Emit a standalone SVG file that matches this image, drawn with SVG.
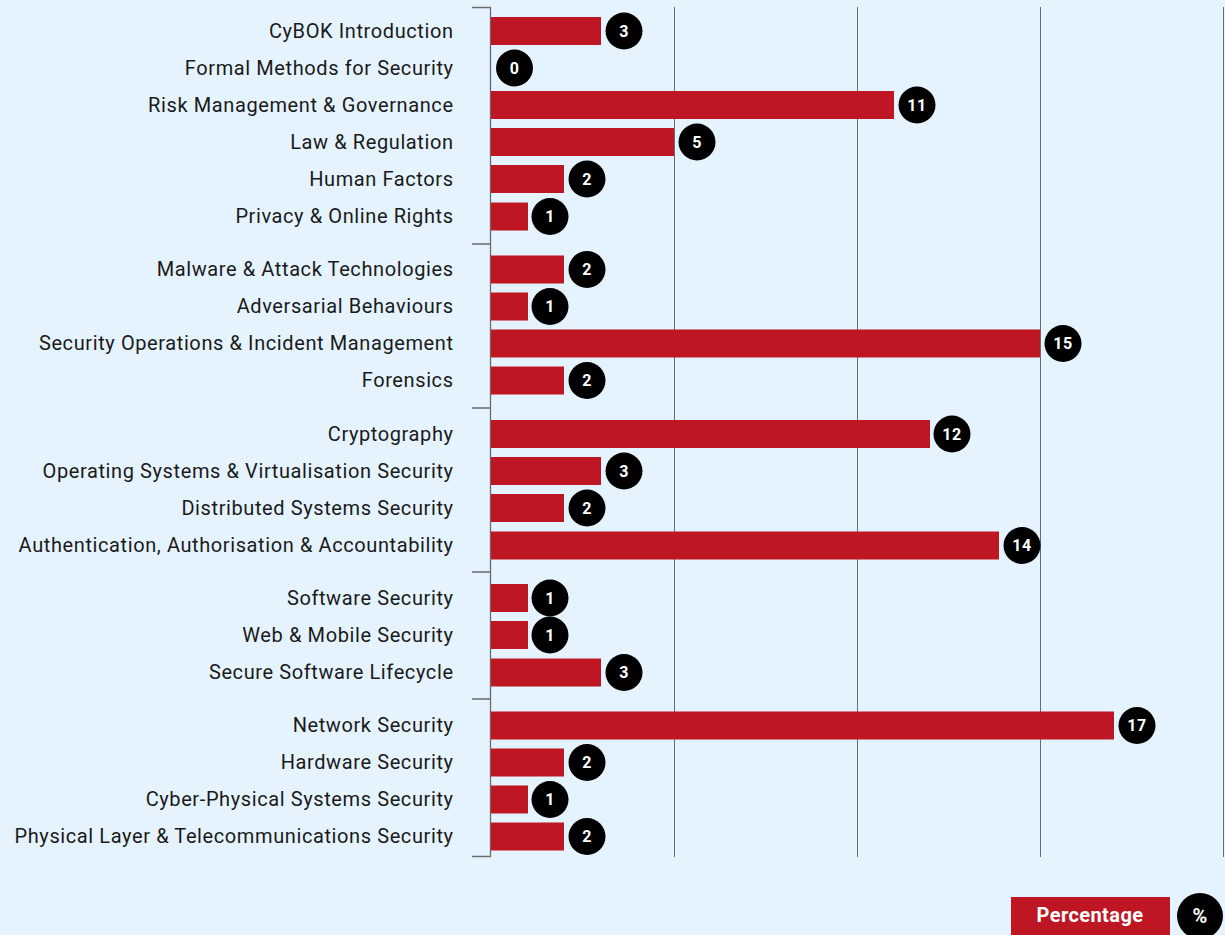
<svg xmlns="http://www.w3.org/2000/svg" width="1225" height="935" viewBox="0 0 1225 935">
<style>
.lbl{font-family:Roboto,"Liberation Sans",sans-serif;font-size:20px;letter-spacing:0.6px;fill:#1a1a1a;text-anchor:end;dominant-baseline:central}
.bar{fill:#be1723}
.dot{fill:#000}
.num{font-family:Roboto,"Liberation Sans",sans-serif;font-size:16px;font-weight:bold;letter-spacing:0.5px;fill:#fff;text-anchor:middle;dominant-baseline:central}
.grid{stroke:#6b6b6b;stroke-width:1;fill:none}
.axis{stroke:#6b6b6b;stroke-width:1.3;fill:none}
.leg{font-family:Roboto,"Liberation Sans",sans-serif;font-size:20px;font-weight:bold;letter-spacing:0.4px;fill:#fff;text-anchor:middle;dominant-baseline:central}
</style>
<rect width="1225" height="935" fill="#e5f3fe"/>
<g id="grid">
<line class="grid" x1="674.5" y1="7" x2="674.5" y2="857"/>
<line class="grid" x1="857.5" y1="7" x2="857.5" y2="857"/>
<line class="grid" x1="1040.5" y1="7" x2="1040.5" y2="857"/>
<line class="grid" x1="1223.5" y1="7" x2="1223.5" y2="857"/>
</g>
<g id="axis">
<path class="axis" d="M472 7.5H490.5V856.5H472"/>
<path class="axis" d="M472 244H490.5M472 408H490.5M472 572H490.5M472 699H490.5"/>
</g>
<g id="bars">
<g id="r1"><text class="lbl" x="453.6" y="30.5">CyBOK Introduction</text><rect class="bar" x="491" y="17" width="110" height="28"/><circle class="dot" cx="624" cy="31" r="18.5"/><text class="num" x="624" y="31">3</text></g>
<g id="r2"><text class="lbl" x="453.6" y="67.5">Formal Methods for Security</text><circle class="dot" cx="514.5" cy="68" r="18.5"/><text class="num" x="514.5" y="68">0</text></g>
<g id="r3"><text class="lbl" x="453.6" y="104.5">Risk Management &amp; Governance</text><rect class="bar" x="491" y="91" width="403" height="28"/><circle class="dot" cx="917" cy="105" r="18.5"/><text class="num" x="917" y="105">11</text></g>
<g id="r4"><text class="lbl" x="453.6" y="141.5">Law &amp; Regulation</text><rect class="bar" x="491" y="128" width="183" height="28"/><circle class="dot" cx="697" cy="142" r="18.5"/><text class="num" x="697" y="142">5</text></g>
<g id="r5"><text class="lbl" x="453.6" y="178.5">Human Factors</text><rect class="bar" x="491" y="165" width="73" height="28"/><circle class="dot" cx="587" cy="179" r="18.5"/><text class="num" x="587" y="179">2</text></g>
<g id="r6"><text class="lbl" x="453.6" y="216">Privacy &amp; Online Rights</text><rect class="bar" x="491" y="202.5" width="37" height="28"/><circle class="dot" cx="550" cy="216.5" r="18.5"/><text class="num" x="550" y="216.5">1</text></g>
<g id="r7"><text class="lbl" x="453.6" y="269">Malware &amp; Attack Technologies</text><rect class="bar" x="491" y="255.5" width="73" height="28"/><circle class="dot" cx="587" cy="269.5" r="18.5"/><text class="num" x="587" y="269.5">2</text></g>
<g id="r8"><text class="lbl" x="453.6" y="306">Adversarial Behaviours</text><rect class="bar" x="491" y="292.5" width="37" height="28"/><circle class="dot" cx="550" cy="306.5" r="18.5"/><text class="num" x="550" y="306.5">1</text></g>
<g id="r9"><text class="lbl" x="453.6" y="343">Security Operations &amp; Incident Management</text><rect class="bar" x="491" y="329.5" width="549" height="28"/><circle class="dot" cx="1063" cy="343.5" r="18.5"/><text class="num" x="1063" y="343.5">15</text></g>
<g id="r10"><text class="lbl" x="453.6" y="380">Forensics</text><rect class="bar" x="491" y="366.5" width="73" height="28"/><circle class="dot" cx="587" cy="380.5" r="18.5"/><text class="num" x="587" y="380.5">2</text></g>
<g id="r11"><text class="lbl" x="453.6" y="433.5">Cryptography</text><rect class="bar" x="491" y="420" width="439" height="28"/><circle class="dot" cx="952" cy="434" r="18.5"/><text class="num" x="952" y="434">12</text></g>
<g id="r12"><text class="lbl" x="453.6" y="470.5">Operating Systems &amp; Virtualisation Security</text><rect class="bar" x="491" y="457" width="110" height="28"/><circle class="dot" cx="624" cy="471" r="18.5"/><text class="num" x="624" y="471">3</text></g>
<g id="r13"><text class="lbl" x="453.6" y="507.5">Distributed Systems Security</text><rect class="bar" x="491" y="494" width="73" height="28"/><circle class="dot" cx="587" cy="508" r="18.5"/><text class="num" x="587" y="508">2</text></g>
<g id="r14"><text class="lbl" x="453.6" y="545">Authentication, Authorisation &amp; Accountability</text><rect class="bar" x="491" y="531.5" width="508" height="28"/><circle class="dot" cx="1022" cy="545.5" r="18.5"/><text class="num" x="1022" y="545.5">14</text></g>
<g id="r15"><text class="lbl" x="453.6" y="597.5">Software Security</text><rect class="bar" x="491" y="584" width="37" height="28"/><circle class="dot" cx="550" cy="598" r="18.5"/><text class="num" x="550" y="598">1</text></g>
<g id="r16"><text class="lbl" x="453.6" y="634.5">Web &amp; Mobile Security</text><rect class="bar" x="491" y="621" width="37" height="28"/><circle class="dot" cx="550" cy="635" r="18.5"/><text class="num" x="550" y="635">1</text></g>
<g id="r17"><text class="lbl" x="453.6" y="672">Secure Software Lifecycle</text><rect class="bar" x="491" y="658.5" width="110" height="28"/><circle class="dot" cx="624" cy="672.5" r="18.5"/><text class="num" x="624" y="672.5">3</text></g>
<g id="r18"><text class="lbl" x="453.6" y="725">Network Security</text><rect class="bar" x="491" y="711.5" width="623" height="28"/><circle class="dot" cx="1137" cy="725.5" r="18.5"/><text class="num" x="1137" y="725.5">17</text></g>
<g id="r19"><text class="lbl" x="453.6" y="762">Hardware Security</text><rect class="bar" x="491" y="748.5" width="73" height="28"/><circle class="dot" cx="587" cy="762.5" r="18.5"/><text class="num" x="587" y="762.5">2</text></g>
<g id="r20"><text class="lbl" x="453.6" y="799">Cyber-Physical Systems Security</text><rect class="bar" x="491" y="785.5" width="37" height="28"/><circle class="dot" cx="550" cy="799.5" r="18.5"/><text class="num" x="550" y="799.5">1</text></g>
<g id="r21"><text class="lbl" x="453.6" y="836">Physical Layer &amp; Telecommunications Security</text><rect class="bar" x="491" y="822.5" width="73" height="28"/><circle class="dot" cx="587" cy="836.5" r="18.5"/><text class="num" x="587" y="836.5">2</text></g>
</g>
<g id="legend">
<rect class="bar" x="1011" y="897" width="159" height="40"/>
<text class="leg" x="1090" y="915">Percentage</text>
<circle class="dot" cx="1200" cy="916" r="23"/>
<text class="leg" x="1200" y="916">%</text>
</g>
</svg>
